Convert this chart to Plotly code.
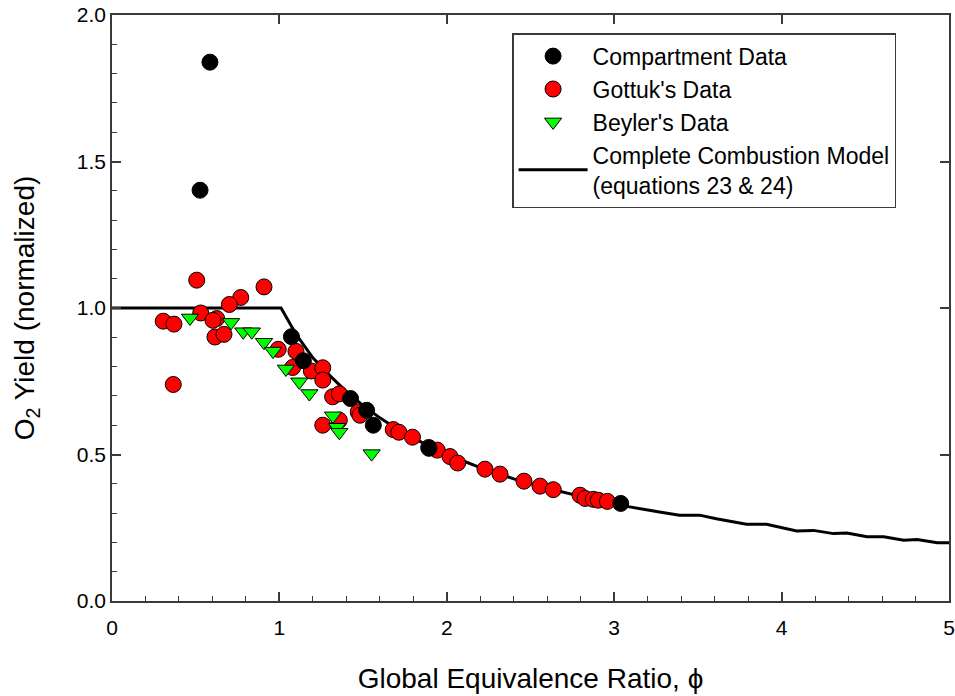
import plotly.graph_objects as go

# Compartment Data
comp_x = [0.585, 0.526, 1.072, 1.143, 1.425, 1.521, 1.561, 1.894, 3.039]
comp_y = [1.839, 1.402, 0.902, 0.820, 0.691, 0.651, 0.600, 0.521, 0.333]

# Gottuk's Data
gott_x = [0.506, 0.908, 0.769, 0.701, 0.530, 0.306, 0.370, 0.625, 0.603, 0.615,
          0.669, 0.366, 0.993, 1.099, 1.079, 1.191, 1.259, 1.259, 1.318, 1.358,
          1.358, 1.259, 1.471, 1.481, 1.680, 1.714, 1.795, 1.892, 1.943, 2.019,
          2.065, 2.228, 2.318, 2.461, 2.557, 2.636, 2.796, 2.826, 2.875, 2.905,
          2.959]
gott_y = [1.095, 1.072, 1.036, 1.012, 0.983, 0.955, 0.945, 0.964, 0.958, 0.901,
          0.910, 0.739, 0.859, 0.852, 0.797, 0.785, 0.796, 0.754, 0.697, 0.707,
          0.617, 0.600, 0.645, 0.634, 0.585, 0.576, 0.559, 0.524, 0.515, 0.493,
          0.471, 0.450, 0.433, 0.409, 0.392, 0.380, 0.361, 0.350, 0.347, 0.344,
          0.340]

# Beyler's Data
bey_x = [0.466, 0.711, 0.784, 0.835, 0.908, 0.962, 1.039, 1.119, 1.179, 1.320,
         1.344, 1.358, 1.551]
bey_y = [0.966, 0.951, 0.919, 0.919, 0.883, 0.853, 0.792, 0.748, 0.708, 0.632,
         0.593, 0.576, 0.503]

# Complete Combustion Model (equations 23 & 24)
model_x = [0.0, 1.01, 1.1, 1.2, 1.3, 1.4, 1.5, 1.6, 1.7, 1.8, 1.9, 2.0, 2.2, 2.4,
           2.6, 2.8, 3.0, 3.075, 3.27, 3.39, 3.51, 3.61, 3.79, 3.91, 4.09, 4.19,
           4.31, 4.39, 4.51, 4.61, 4.73, 4.81, 4.93, 5.0]
model_y = [1.0, 1.0, 0.91, 0.83, 0.77, 0.715, 0.667, 0.625, 0.588, 0.556, 0.526,
           0.50, 0.455, 0.417, 0.385, 0.357, 0.333, 0.323, 0.304, 0.293, 0.293,
           0.281, 0.262, 0.262, 0.239, 0.241, 0.230, 0.232, 0.219, 0.219, 0.207,
           0.210, 0.199, 0.199]

x_ticks = [0, 1, 2, 3, 4, 5]
y_ticks = [0.0, 0.5, 1.0, 1.5, 2.0]
y_tick_labels = ["0.0", "0.5", "1.0", "1.5", "2.0"]

FONT = "Liberation Sans, Arial, sans-serif"
AX = "#3a3a3a"

fig = go.Figure()
fig.add_trace(go.Scatter(x=model_x, y=model_y, mode="lines",
                         line=dict(color="black", width=3),
                         name="Complete Combustion Model<br>(equations 23 & 24)",
                         showlegend=False))
fig.add_trace(go.Scatter(x=gott_x, y=gott_y, mode="markers", name="Gottuk's Data",
                         marker=dict(symbol="circle", size=16, color="#ff0000",
                                     line=dict(color="black", width=1)), showlegend=False))
fig.add_trace(go.Scatter(x=bey_x, y=bey_y, mode="markers", name="Beyler's Data",
                         marker=dict(symbol="triangle-down", size=15, color="#00ff00",
                                     line=dict(color="black", width=1)), showlegend=False))
fig.add_trace(go.Scatter(x=comp_x, y=comp_y, mode="markers", name="Compartment Data",
                         marker=dict(symbol="circle", size=16, color="black",
                                     line=dict(color="black", width=1)), showlegend=False))

# legend entries in the reference order
fig.add_trace(go.Scatter(x=[None], y=[None], mode="markers", name="Compartment Data",
                         marker=dict(symbol="circle", size=16, color="black",
                                     line=dict(color="black", width=1))))
fig.add_trace(go.Scatter(x=[None], y=[None], mode="markers", name="Gottuk's Data",
                         marker=dict(symbol="circle", size=16, color="#ff0000",
                                     line=dict(color="black", width=1))))
fig.add_trace(go.Scatter(x=[None], y=[None], mode="markers", name="Beyler's Data",
                         marker=dict(symbol="triangle-down", size=15, color="#00ff00",
                                     line=dict(color="black", width=1))))
fig.add_trace(go.Scatter(x=[None], y=[None], mode="lines",
                         name="Complete Combustion Model<br>(equations 23 & 24)",
                         line=dict(color="black", width=3)))

fig.update_layout(
    width=955, height=696,
    margin=dict(l=112, r=6, t=15, b=95, autoexpand=False),
    paper_bgcolor="white", plot_bgcolor="white",
    font=dict(family=FONT, size=21, color="black"),
    xaxis=dict(range=[0, 5], tickvals=x_ticks, ticks="inside", ticklen=9, tickwidth=1.5,
               tickcolor=AX, showline=True, linecolor=AX, linewidth=1.5, showgrid=False,
               zeroline=False, tickfont=dict(size=21), automargin=False, ticklabelstandoff=7,
               minor=dict(dtick=0.2, ticks="inside", ticklen=5, tickwidth=1.2, tickcolor=AX),
               title=dict(text="Global Equivalence Ratio, ϕ", font=dict(size=28), standoff=30)),
    yaxis=dict(range=[0, 2], tickvals=y_ticks, ticktext=y_tick_labels, ticks="inside",
               ticklen=9, tickwidth=1.5, tickcolor=AX, showline=True, linecolor=AX,
               linewidth=1.5, showgrid=False, zeroline=False, tickfont=dict(size=21),
               automargin=False,
               minor=dict(dtick=0.1, ticks="inside", ticklen=5, tickwidth=1.2, tickcolor=AX),
               title=dict(text="O<sub>2</sub> Yield (normalized)", font=dict(size=28), standoff=34)),
    xaxis2=dict(range=[0, 5], overlaying="x", side="top", tickvals=x_ticks, ticks="inside",
                ticklen=9, tickwidth=1.5, tickcolor=AX, showticklabels=False, showline=True,
                linecolor=AX, linewidth=1.5, showgrid=False, zeroline=False, automargin=False),
    yaxis2=dict(range=[0, 2], overlaying="y", side="right", tickvals=y_ticks, ticks="inside",
                ticklen=9, tickwidth=1.5, tickcolor=AX, showticklabels=False, showline=True,
                linecolor=AX, linewidth=1.5, showgrid=False, zeroline=False, automargin=False),
    legend=dict(x=0.478, y=0.969, xanchor="left", yanchor="top", bgcolor="white",
                bordercolor=AX, borderwidth=1.5, font=dict(size=23), itemwidth=69,
                tracegroupgap=0),
)
fig.add_trace(go.Scatter(x=[None], y=[None], xaxis="x2", yaxis="y2", showlegend=False,
                         hoverinfo="skip"))

fig.write_html("out.html", config={"displayModeBar": False},
               post_script="document.body.style.margin='0';document.body.style.padding='0';")
